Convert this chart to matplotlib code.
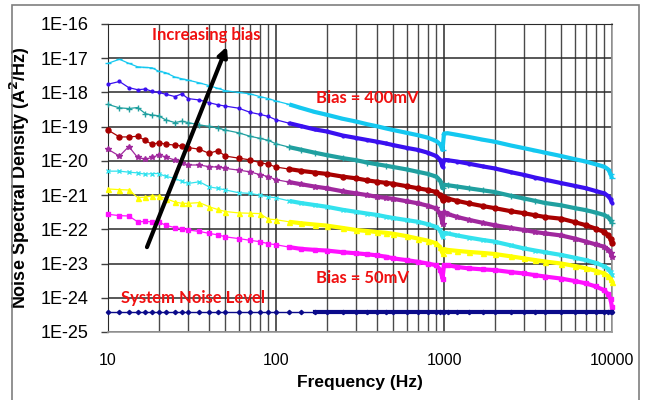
import numpy as np
import matplotlib
matplotlib.use("Agg")
import matplotlib.pyplot as plt
from matplotlib.ticker import FixedLocator, FuncFormatter, NullFormatter
import matplotlib.patches as mpatches

# ── Data (log10 of noise PSD in A^2/Hz) ──
freq = [10, 11.7, 13.3, 15, 16.7, 18.3, 20, 22, 25, 27.5, 30, 35, 40, 45, 50,
        60, 70, 80, 90, 100, 120, 140, 170, 200, 250, 300, 350, 400, 450, 500,
        600, 700, 800, 900, 950, 980, 1000, 1050, 1200, 1400, 1700, 2000, 2500,
        3000, 3500, 4000, 5000, 6000, 7000, 8000, 9000, 9500, 9800, 10000]

psd_400mV = [-17.15, -17.03, -17.15, -17.25, -17.27, -17.28, -17.38, -17.42, -17.55, -17.60,
             -17.64, -17.72, -17.80, -17.88, -17.95, -18.00, -18.04, -18.12, -18.18, -18.25,
             -18.35, -18.45, -18.57, -18.65, -18.77, -18.85, -18.93, -18.99, -19.05, -19.10,
             -19.18, -19.25, -19.32, -19.42, -19.52, -19.68, -19.20, -19.19, -19.24, -19.30,
             -19.38, -19.44, -19.55, -19.63, -19.70, -19.76, -19.86, -19.95, -20.02, -20.10,
             -20.17, -20.25, -20.38, -20.51]
psd_350mV = [-17.76, -17.68, -17.86, -17.92, -17.90, -17.97, -18.00, -18.05, -18.12, -18.04,
             -18.18, -18.22, -18.30, -18.36, -18.40, -18.46, -18.58, -18.64, -18.70, -18.80,
             -18.90, -18.98, -19.08, -19.14, -19.26, -19.33, -19.39, -19.44, -19.49, -19.54,
             -19.62, -19.68, -19.76, -19.86, -19.97, -20.17, -19.97, -19.98, -20.02, -20.08,
             -20.16, -20.22, -20.33, -20.41, -20.49, -20.55, -20.65, -20.73, -20.80, -20.88,
             -20.95, -21.03, -21.12, -21.24]
psd_300mV = [-18.35, -18.45, -18.47, -18.44, -18.62, -18.66, -18.68, -18.80, -18.88, -18.84,
             -18.88, -18.95, -18.99, -19.04, -19.10, -19.18, -19.28, -19.34, -19.40, -19.50,
             -19.60, -19.67, -19.76, -19.83, -19.92, -19.98, -20.05, -20.10, -20.14, -20.18,
             -20.25, -20.32, -20.38, -20.46, -20.58, -20.80, -20.70, -20.71, -20.75, -20.80,
             -20.86, -20.91, -21.02, -21.10, -21.17, -21.23, -21.30, -21.38, -21.44, -21.51,
             -21.58, -21.65, -21.73, -21.82]
psd_250mV = [-19.10, -19.30, -19.30, -19.28, -19.40, -19.52, -19.47, -19.51, -19.54, -19.56,
             -19.61, -19.66, -19.78, -19.70, -19.86, -19.92, -19.97, -20.05, -20.10, -20.18,
             -20.24, -20.29, -20.34, -20.38, -20.46, -20.51, -20.57, -20.61, -20.64, -20.67,
             -20.74, -20.80, -20.85, -20.91, -21.00, -21.15, -21.05, -21.10, -21.17, -21.24,
             -21.32, -21.38, -21.47, -21.53, -21.59, -21.64, -21.69, -21.79, -21.88, -21.98,
             -22.08, -22.18, -22.28, -22.41]
psd_200mV = [-19.66, -19.86, -19.58, -19.90, -19.95, -19.90, -19.83, -19.88, -19.98, -20.05,
             -20.12, -20.12, -20.17, -20.18, -20.22, -20.27, -20.32, -20.40, -20.46, -20.55,
             -20.62, -20.68, -20.75, -20.80, -20.89, -20.95, -21.00, -21.05, -21.08, -21.11,
             -21.18, -21.24, -21.31, -21.39, -21.55, -21.83, -21.50, -21.55, -21.64, -21.72,
             -21.81, -21.88, -21.96, -22.02, -22.08, -22.12, -22.18, -22.27, -22.36, -22.44,
             -22.51, -22.60, -22.68, -22.80]
psd_150mV = [-20.30, -20.30, -20.33, -20.35, -20.39, -20.37, -20.37, -20.45, -20.51, -20.60,
             -20.66, -20.61, -20.76, -20.80, -20.85, -20.93, -20.95, -21.00, -21.05, -21.08,
             -21.17, -21.23, -21.29, -21.34, -21.43, -21.49, -21.54, -21.58, -21.63, -21.67,
             -21.73, -21.78, -21.85, -21.93, -22.03, -22.22, -22.10, -22.12, -22.18, -22.24,
             -22.31, -22.36, -22.47, -22.56, -22.62, -22.67, -22.75, -22.83, -22.90, -22.98,
             -23.08, -23.16, -23.25, -23.34]
psd_100mV = [-20.82, -20.84, -20.85, -21.07, -21.06, -21.02, -21.03, -21.10, -21.20, -21.24,
             -21.24, -21.22, -21.34, -21.42, -21.48, -21.52, -21.53, -21.54, -21.70, -21.72,
             -21.78, -21.82, -21.86, -21.89, -21.96, -22.02, -22.05, -22.08, -22.10, -22.13,
             -22.20, -22.27, -22.33, -22.41, -22.52, -22.70, -22.58, -22.60, -22.63, -22.66,
             -22.69, -22.72, -22.79, -22.85, -22.90, -22.94, -23.00, -23.07, -23.14, -23.21,
             -23.29, -23.37, -23.45, -23.53]
psd_50mV = [-21.56, -21.60, -21.61, -21.78, -21.77, -21.78, -21.78, -21.88, -21.95, -21.98,
            -22.02, -22.06, -22.12, -22.16, -22.22, -22.27, -22.32, -22.36, -22.42, -22.45,
            -22.52, -22.57, -22.60, -22.62, -22.67, -22.70, -22.73, -22.76, -22.80, -22.85,
            -22.90, -22.95, -23.00, -23.05, -23.18, -23.44, -23.05, -23.05, -23.10, -23.14,
            -23.17, -23.19, -23.25, -23.29, -23.34, -23.38, -23.44, -23.51, -23.58, -23.67,
            -23.78, -23.90, -24.05, -24.27]
system_noise = 3.8e-25

y_ticks = [1e-25, 1e-24, 1e-23, 1e-22, 1e-21, 1e-20, 1e-19, 1e-18, 1e-17, 1e-16]
x_ticks = [10, 100, 1000, 10000]

# ── Styles per curve ──
curves = [
    (psd_400mV, "#14C8F0", "_", 4.5),
    (psd_350mV, "#3A10F0", ".", 4.0),
    (psd_300mV, "#20A0A0", "+", 4.5),
    (psd_250mV, "#A80000", "o", 3.6),
    (psd_200mV, "#A0289E", "*", 4.0),
    (psd_150mV, "#33E2EE", "x", 3.5),
    (psd_100mV, "#FFFF00", "^", 3.6),
    (psd_50mV,  "#FF10FF", "s", 3.2),
]

plt.rcParams.update({
    "font.family": ["Liberation Sans", "DejaVu Sans"],
})

fig = plt.figure(figsize=(6.46, 4.0), dpi=100)
ax = fig.add_axes([108 / 646, 1 - 332 / 400, 504 / 646, 308 / 400])

f = np.array(freq)
dense = f >= 120
for vals, col, mk, ms in curves:
    y = 10.0 ** np.array(vals)
    ax.plot(f, y, color=col, lw=0.9, marker=mk, ms=ms, mew=1.0,
            mec=col, mfc=col, clip_on=False, zorder=3)
    ax.plot(f[dense], y[dense], color=col, lw=3.0, solid_capstyle="butt",
            clip_on=False, zorder=3)

noise = np.full(len(f), system_noise)
ax.plot(f, noise, color="#0A0A8A", lw=1.0, marker="D", ms=2.2, clip_on=False, zorder=3)
ax.plot(f[f >= 150], noise[f >= 150], color="#0A0A8A", lw=3.0, clip_on=False, zorder=3)

ax.set_xscale("log")
ax.set_yscale("log")
ax.set_xlim(10, 10000)
ax.set_ylim(1e-25, 1e-16)

ax.xaxis.set_major_locator(FixedLocator(x_ticks))
ax.set_xticklabels([str(v) for v in x_ticks])
ax.xaxis.set_minor_locator(FixedLocator(
    [m * d for d in (10, 100, 1000) for m in range(2, 10)]))
ax.xaxis.set_minor_formatter(NullFormatter())
ax.yaxis.set_major_locator(FixedLocator(y_ticks))
ax.yaxis.set_major_formatter(FuncFormatter(lambda v, p: f"1E{int(round(np.log10(v)))}"))
ax.yaxis.set_minor_locator(FixedLocator([]))

ax.tick_params(axis="x", which="both", length=0, pad=15, labelsize=11.5)
ax.tick_params(axis="y", which="major", length=5, width=1.0, color="#404040",
               pad=9, labelsize=13)

ax.grid(which="major", axis="both", color="#2a2a2a", lw=1.1, zorder=1)
ax.grid(which="minor", axis="x", color="#4a4a4a", lw=1.0, zorder=1)
for side in ("left", "top"):
    ax.spines[side].set_color("#2a2a2a")
for side in ("right", "bottom"):
    ax.spines[side].set_color("#9a9a9a")
    ax.spines[side].set_linewidth(1.2)

ax.set_xlabel("Frequency (Hz)", fontsize=12.5, fontweight="bold", labelpad=5)
ax.set_ylabel("Noise Spectral Density (A$^\\mathbf{2}$/Hz)", fontsize=13,
              fontweight="bold", labelpad=6)

# ── Annotations ──
red = "#F01010"
ann_font = dict(family=["Lato", "DejaVu Sans"], fontweight="bold", color=red,
                fontsize=12, zorder=6)
ax.text(38.3, 10 ** -16.32, "Increasing bias", ha="center", va="center", **ann_font)
ax.text(173, 10 ** -18.15, "Bias = 400mV", ha="left", va="center", **ann_font)
ax.text(173, 10 ** -23.41, "Bias = 50mV", ha="left", va="center", **ann_font)
ax.text(11.9, 10 ** -24.01, "System Noise Level", ha="left", va="center", **ann_font)

ax.annotate("", xy=(51, 10 ** -16.66), xytext=(17.06, 10 ** -22.52),
            arrowprops=dict(arrowstyle="-|>", lw=3.0, color="black",
                            mutation_scale=14, shrinkA=0, shrinkB=0),
            zorder=5)

# outer frame
fig.patches.append(mpatches.Rectangle((12 / 646, -0.02), 627 / 646, 1.02 - 5 / 400,
                                      transform=fig.transFigure, fill=False,
                                      edgecolor="#7f7f7f", lw=1.2))

fig.savefig("out.png", dpi=100, facecolor="white")
